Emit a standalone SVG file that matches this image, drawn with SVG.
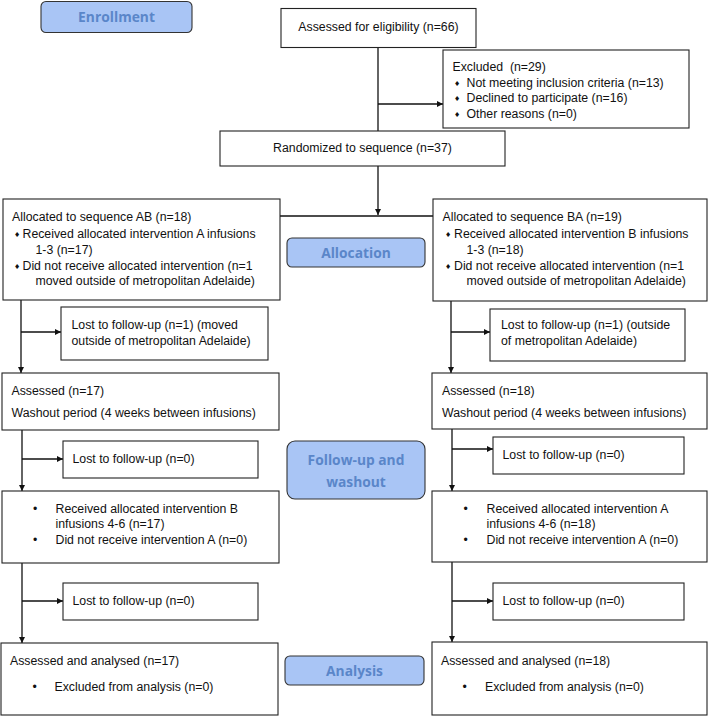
<svg xmlns="http://www.w3.org/2000/svg" width="709" height="716" viewBox="0 0 709 716">
<style>
.box{fill:#fff;stroke:#222;stroke-width:1.1}
.lbl{fill:#a9c5f5;stroke:#333;stroke-width:1.1}
.t{font-family:"Liberation Sans",Arial,sans-serif;font-size:12.3px;fill:#111}
.c{text-anchor:middle}
.lt{font-family:"Open Sans","Noto Sans",sans-serif;font-weight:700;font-size:13.8px;fill:#5a86c9;text-anchor:middle}
.dm{font-family:"DejaVu Sans",sans-serif;font-size:7px;fill:#111}
.ln{fill:none;stroke:#111;stroke-width:1.3}
</style>
<defs>
<marker id="ah" viewBox="0 0 10 10" refX="10" refY="5" markerWidth="6" markerHeight="6" orient="auto" markerUnits="userSpaceOnUse">
<path d="M0,0 L10,5 L0,10 z" fill="#111"/>
</marker>
</defs>

<g id="connectors">
<line class="ln" x1="378" y1="48" x2="378" y2="131"/>
<line class="ln" x1="378" y1="104" x2="443" y2="104" marker-end="url(#ah)"/>
<line class="ln" x1="378" y1="166" x2="378" y2="215" marker-end="url(#ah)"/>
<line class="ln" x1="280" y1="216" x2="433" y2="216"/>
<line class="ln" x1="21" y1="300" x2="21" y2="373" marker-end="url(#ah)"/>
<line class="ln" x1="21" y1="332" x2="61" y2="332" marker-end="url(#ah)"/>
<line class="ln" x1="451" y1="301" x2="451" y2="373" marker-end="url(#ah)"/>
<line class="ln" x1="451" y1="332" x2="490" y2="332" marker-end="url(#ah)"/>
<line class="ln" x1="22" y1="430" x2="22" y2="491" marker-end="url(#ah)"/>
<line class="ln" x1="22" y1="459" x2="63" y2="459" marker-end="url(#ah)"/>
<line class="ln" x1="452" y1="429" x2="452" y2="491" marker-end="url(#ah)"/>
<line class="ln" x1="452" y1="449" x2="493" y2="449" marker-end="url(#ah)"/>
<line class="ln" x1="22" y1="563" x2="22" y2="643" marker-end="url(#ah)"/>
<line class="ln" x1="22" y1="601" x2="63" y2="601" marker-end="url(#ah)"/>
<line class="ln" x1="452" y1="562" x2="452" y2="642" marker-end="url(#ah)"/>
<line class="ln" x1="452" y1="601" x2="493" y2="601" marker-end="url(#ah)"/>
</g>

<g id="enrollment">
<rect class="lbl" x="41" y="1.5" width="151" height="31" rx="5"/>
<text class="lt" x="116.5" y="22">Enrollment</text>
</g>
<g id="allocation">
<rect class="lbl" x="287" y="238" width="138" height="29" rx="5"/>
<text class="lt" x="356" y="258">Allocation</text>
</g>
<g id="followup">
<rect class="lbl" x="287" y="441" width="138" height="58" rx="8"/>
<text class="lt" x="356" y="464.5">Follow-up and</text>
<text class="lt" x="356" y="486.5">washout</text>
</g>
<g id="analysis">
<rect class="lbl" x="285" y="656" width="139" height="29" rx="5"/>
<text class="lt" x="354.5" y="675.5">Analysis</text>
</g>

<g id="assessed">
<rect class="box" x="281" y="8.5" width="195" height="39"/>
<text class="t c" x="378.5" y="30.5">Assessed for eligibility (n=66)</text>
</g>
<g id="excluded">
<rect class="box" x="443" y="50" width="246" height="78"/>
<text class="t" x="452.5" y="71" style="white-space:pre">Excluded  (n=29)</text>
<text class="dm" x="454" y="85.5">♦</text>
<text class="t" x="466.5" y="86.5">Not meeting inclusion criteria (n=13)</text>
<text class="dm" x="454" y="101">♦</text>
<text class="t" x="466.5" y="102">Declined to participate (n=16)</text>
<text class="dm" x="454" y="116.5">♦</text>
<text class="t" x="466.5" y="117.5">Other reasons (n=0)</text>
</g>
<g id="randomized">
<rect class="box" x="220" y="131" width="285" height="35"/>
<text class="t c" x="362.5" y="152">Randomized to sequence (n=37)</text>
</g>

<g id="allocAB">
<rect class="box" x="3" y="199" width="277" height="101"/>
<text class="t" x="12" y="221">Allocated to sequence AB (n=18)</text>
<text class="dm" x="14" y="236.5">♦</text>
<text class="t" x="22.5" y="237.5">Received allocated intervention A infusions</text>
<text class="t" x="35.5" y="253.5">1-3 (n=17)</text>
<text class="dm" x="14" y="268.5">♦</text>
<text class="t" x="22.5" y="269.5">Did not receive allocated intervention (n=1</text>
<text class="t" x="35.5" y="285">moved outside of metropolitan Adelaide)</text>
</g>
<g id="allocBA">
<rect class="box" x="433" y="199" width="274" height="102"/>
<text class="t" x="442.5" y="221">Allocated to sequence BA (n=19)</text>
<text class="dm" x="445" y="236.5">♦</text>
<text class="t" x="454" y="237.5">Received allocated intervention B infusions</text>
<text class="t" x="466.5" y="253.5">1-3 (n=18)</text>
<text class="dm" x="445" y="268.5">♦</text>
<text class="t" x="454" y="269.5">Did not receive allocated intervention (n=1</text>
<text class="t" x="466.5" y="285">moved outside of metropolitan Adelaide)</text>
</g>

<g id="lostAB1">
<rect class="box" x="61" y="307" width="207" height="53"/>
<text class="t" x="71.5" y="329">Lost to follow-up (n=1) (moved</text>
<text class="t" x="71.5" y="345">outside of metropolitan Adelaide)</text>
</g>
<g id="lostBA1">
<rect class="box" x="490" y="309" width="195" height="52"/>
<text class="t" x="501" y="329">Lost to follow-up (n=1) (outside</text>
<text class="t" x="501" y="345">of metropolitan Adelaide)</text>
</g>

<g id="assessedAB">
<rect class="box" x="2" y="373" width="277" height="57"/>
<text class="t" x="11.5" y="395">Assessed (n=17)</text>
<text class="t" x="11.5" y="416.5">Washout period (4 weeks between infusions)</text>
</g>
<g id="assessedBA">
<rect class="box" x="432" y="373" width="275" height="56"/>
<text class="t" x="442" y="395">Assessed (n=18)</text>
<text class="t" x="442" y="416.5">Washout period (4 weeks between infusions)</text>
</g>

<g id="lostAB2">
<rect class="box" x="63" y="441" width="195" height="37"/>
<text class="t" x="72.5" y="463">Lost to follow-up (n=0)</text>
</g>
<g id="lostBA2">
<rect class="box" x="493" y="437" width="191" height="37"/>
<text class="t" x="502.5" y="459">Lost to follow-up (n=0)</text>
</g>

<g id="receivedAB">
<rect class="box" x="2" y="491" width="277" height="72"/>
<text class="t" x="33" y="512.5">•</text>
<text class="t" x="55.5" y="512.5">Received allocated intervention B</text>
<text class="t" x="55.5" y="528">infusions 4-6 (n=17)</text>
<text class="t" x="33" y="544">•</text>
<text class="t" x="55.5" y="544">Did not receive intervention A (n=0)</text>
</g>
<g id="receivedBA">
<rect class="box" x="432" y="491" width="275" height="71"/>
<text class="t" x="463.5" y="512.5">•</text>
<text class="t" x="486.5" y="512.5">Received allocated intervention A</text>
<text class="t" x="486.5" y="528">infusions 4-6 (n=18)</text>
<text class="t" x="463.5" y="544">•</text>
<text class="t" x="486.5" y="544">Did not receive intervention A (n=0)</text>
</g>

<g id="lostAB3">
<rect class="box" x="63" y="583" width="195" height="37"/>
<text class="t" x="72.5" y="604.5">Lost to follow-up (n=0)</text>
</g>
<g id="lostBA3">
<rect class="box" x="493" y="583" width="191" height="37"/>
<text class="t" x="502.5" y="604.5">Lost to follow-up (n=0)</text>
</g>

<g id="analysedAB">
<rect class="box" x="1" y="643" width="277" height="72"/>
<text class="t" x="10" y="664.5">Assessed and analysed (n=17)</text>
<text class="t" x="32.5" y="691">•</text>
<text class="t" x="54.5" y="691">Excluded from analysis (n=0)</text>
</g>
<g id="analysedBA">
<rect class="box" x="432" y="642" width="275" height="73"/>
<text class="t" x="441" y="664.5">Assessed and analysed (n=18)</text>
<text class="t" x="462.5" y="691">•</text>
<text class="t" x="485" y="691">Excluded from analysis (n=0)</text>
</g>
</svg>
